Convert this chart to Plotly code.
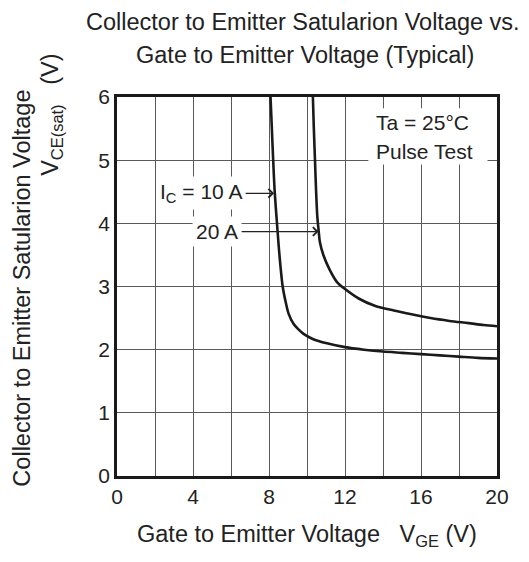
import plotly.graph_objects as go

# Data
vge_10a = [8.08, 8.15, 8.22, 8.30, 8.42, 8.55, 8.72, 8.88, 9.03, 9.29, 9.55, 9.82, 10.3, 11.05, 12.0, 13.0, 14.0, 15.0, 16.0, 17.0, 18.0, 19.0, 20.0]
vce_10a = [6.0, 5.5, 5.0, 4.5, 4.0, 3.5, 3.0, 2.75, 2.57, 2.41, 2.32, 2.25, 2.17, 2.10, 2.04, 2.00, 1.97, 1.95, 1.93, 1.91, 1.89, 1.87, 1.86]

vge_20a = [10.31, 10.36, 10.42, 10.48, 10.54, 10.61, 10.68, 10.87, 11.17, 11.58, 12.02, 12.72, 13.6, 14.57, 15.5, 16.5, 17.5, 18.5, 19.3, 20.0]
vce_20a = [6.0, 5.5, 5.0, 4.5, 4.12, 3.89, 3.70, 3.49, 3.28, 3.07, 2.955, 2.81, 2.69, 2.62, 2.56, 2.50, 2.455, 2.42, 2.39, 2.37]

x_tickvals = [0, 2, 4, 6, 8, 10, 12, 14, 16, 18, 20]
x_ticktext = ["0", "", "4", "", "8", "", "12", "", "16", "", "20"]
y_tickvals = [0, 1, 2, 3, 4, 5, 6]
y_ticktext = ["0", "1", "2", "3", "4", "5", "6"]

FONT = "Liberation Sans, Arial, Helvetica, sans-serif"
NB = "\u00a0"

fig = go.Figure()
for xs, ys in [(vge_10a, vce_10a), (vge_20a, vce_20a)]:
    fig.add_trace(go.Scatter(
        x=xs, y=ys, mode="lines",
        line=dict(color="#1a1a1a", width=2.6, shape="spline", smoothing=0.8),
        showlegend=False, hoverinfo="skip"))

axis_common = dict(
    showgrid=True, gridcolor="#5a5a5a", gridwidth=1.1,
    zeroline=False, showline=True, linecolor="#1a1a1a", linewidth=2.5, mirror=True,
    ticks="", tickfont=dict(family=FONT, size=21, color="#222"),
)

fig.update_xaxes(range=[0, 20], tickmode="array", tickvals=x_tickvals, ticktext=x_ticktext,
                 ticklabelstandoff=0, **axis_common)
fig.update_yaxes(range=[0, 6], tickmode="array", tickvals=y_tickvals, ticktext=y_ticktext,
                 ticklabelstandoff=0, **axis_common)

# white box behind the condition text
fig.add_shape(type="rect", xref="x", yref="y", x0=13.23, x1=19.5, y0=4.93, y1=5.82,
              fillcolor="white", line=dict(width=0), layer="between")

txt = dict(family=FONT, size=21, color="#222")
fig.add_annotation(x=13.55, y=5.60, xref="x", yref="y", text="Ta = 25°C",
                   showarrow=False, xanchor="left", yanchor="middle", font=txt)
fig.add_annotation(x=13.55, y=5.13, xref="x", yref="y", text="Pulse Test",
                   showarrow=False, xanchor="left", yanchor="middle", font=txt)

arrow_style = dict(showarrow=True, arrowhead=4, arrowsize=1.3, arrowwidth=1.3,
                   arrowcolor="#222", standoff=0, startstandoff=0,
                   bgcolor="white", font=txt, borderpad=3)
fig.add_annotation(x=8.27, y=4.475, ax=4.43, ay=4.475, xref="x", yref="y",
                   axref="x", ayref="y", text="I<sub>C</sub> = 10 A", **arrow_style)
fig.add_annotation(x=10.61, y=3.87, ax=5.27, ay=3.87, xref="x", yref="y",
                   axref="x", ayref="y", text="20 A", **arrow_style)

title_font = dict(family=FONT, size=23.5, color="#222")
fig.add_annotation(x=0.489, y=1.198, xref="paper", yref="paper",
                   text="Collector to Emitter Satularion Voltage vs.",
                   showarrow=False, font=title_font, xanchor="center", yanchor="middle")
fig.add_annotation(x=0.495, y=1.111, xref="paper", yref="paper",
                   text="Gate to Emitter Voltage (Typical)",
                   showarrow=False, font=title_font, xanchor="center", yanchor="middle")
fig.add_annotation(x=0.5, y=-0.158, xref="paper", yref="paper",
                   text="Gate to Emitter Voltage" + NB * 3 + "V<sub>GE</sub> (V)",
                   showarrow=False, font=title_font, xanchor="center", yanchor="middle")
fig.add_annotation(x=-0.251, y=0.496, xref="paper", yref="paper",
                   text="Collector to Emitter Satularion Voltage", textangle=-90,
                   showarrow=False, font=title_font, xanchor="center", yanchor="middle")
fig.add_annotation(x=-0.172, y=0.952, xref="paper", yref="paper",
                   text="V<sub>CE(sat)</sub>" + NB * 3 + "(V)", textangle=-90,
                   showarrow=False, font=title_font, xanchor="center", yanchor="middle")

fig.update_layout(
    width=521, height=554,
    margin=dict(l=109, r=32, t=89, b=86),
    paper_bgcolor="white", plot_bgcolor="white",
    font=dict(family=FONT, color="#222"),
)

fig.write_html("out.html")
